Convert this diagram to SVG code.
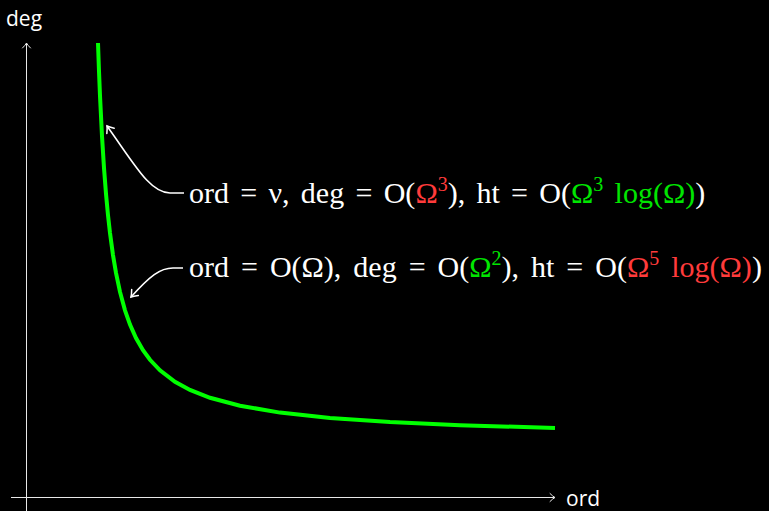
<svg xmlns="http://www.w3.org/2000/svg" width="769" height="511" viewBox="0 0 769 511">
<defs>
<style>
.axis{stroke:#e8e8e8;stroke-width:1;fill:none}
.lbl{font-family:"Open Sans","Noto Sans",sans-serif;font-size:21px;fill:#ffffff}
.ann{font-family:"Liberation Serif","DejaVu Serif",serif;font-size:30px;fill:#ffffff;word-spacing:4.5px}
.r{fill:#ff3b3b}
.g{fill:#00e600}
.conn{stroke:#ffffff;stroke-width:1.6;fill:none}
</style>
<marker id="ah" viewBox="-8 -6 10 12" markerWidth="10" markerHeight="12" refX="0" refY="0" orient="auto" markerUnits="userSpaceOnUse">
<path d="M-6,-4.5 Q-2,-1 0,0 Q-2,1 -6,4.5" fill="none" stroke="#ffffff" stroke-width="1.5" stroke-linecap="round"/>
</marker>
<marker id="axh" viewBox="-8 -6 10 12" markerWidth="10" markerHeight="12" refX="0" refY="0" orient="auto" markerUnits="userSpaceOnUse">
<path d="M-5,-4 Q-2,-1 0,0 Q-2,1 -5,4" fill="none" stroke="#e8e8e8" stroke-width="1" stroke-linecap="round"/>
</marker>
</defs>
<rect width="769" height="511" fill="#000000"/>
<g id="axes">
<line class="axis" x1="26.5" y1="511" x2="26.5" y2="43" marker-end="url(#axh)"/>
<line class="axis" x1="11" y1="497.5" x2="555" y2="497.5" marker-end="url(#axh)"/>
<text class="lbl" x="6" y="26">deg</text>
<text class="lbl" x="566" y="506">ord</text>
</g>
<g id="curve">
<polyline fill="none" stroke="#00ff00" stroke-width="4" points="98,43 99,71.2 100,95.8 102,136.1 104,168 106,193.8 108,215.1 110,233 113,255.1 116,272.9 120,291.9 125,310.3 130,324.6 136,338 143,350.2 150,359.8 160,370.3 175,381.8 190,389.9 210,397.8 240,405.7 280,412.6 330,417.9 390,422.1 460,425.2 555,428"/>
</g>
<g id="connectors">
<path class="conn" d="M184,193 L170,193 C150,193 135,165 107,126" marker-end="url(#ah)"/>
<path class="conn" d="M183,268 L173,268 C160,268 150,276 131,297" marker-end="url(#ah)"/>
</g>
<g id="label1">
<text class="ann" x="189" y="203" style="word-spacing:3.8px">ord = ν, deg = O(<tspan class="r">Ω</tspan><tspan class="r" font-size="20" dy="-12">3</tspan><tspan dy="12">), ht = O(</tspan><tspan class="g">Ω</tspan><tspan class="g" font-size="20" dy="-12">3</tspan><tspan class="g" dy="12"> log(Ω)</tspan>)</text>
</g>
<g id="label2">
<text class="ann" x="189" y="277">ord = O(Ω), deg = O(<tspan class="g">Ω</tspan><tspan class="g" font-size="20" dy="-12">2</tspan><tspan dy="12">), ht = O(</tspan><tspan class="r">Ω</tspan><tspan class="r" font-size="20" dy="-12">5</tspan><tspan class="r" dy="12"> log(Ω)</tspan>)</text>
</g>
</svg>
